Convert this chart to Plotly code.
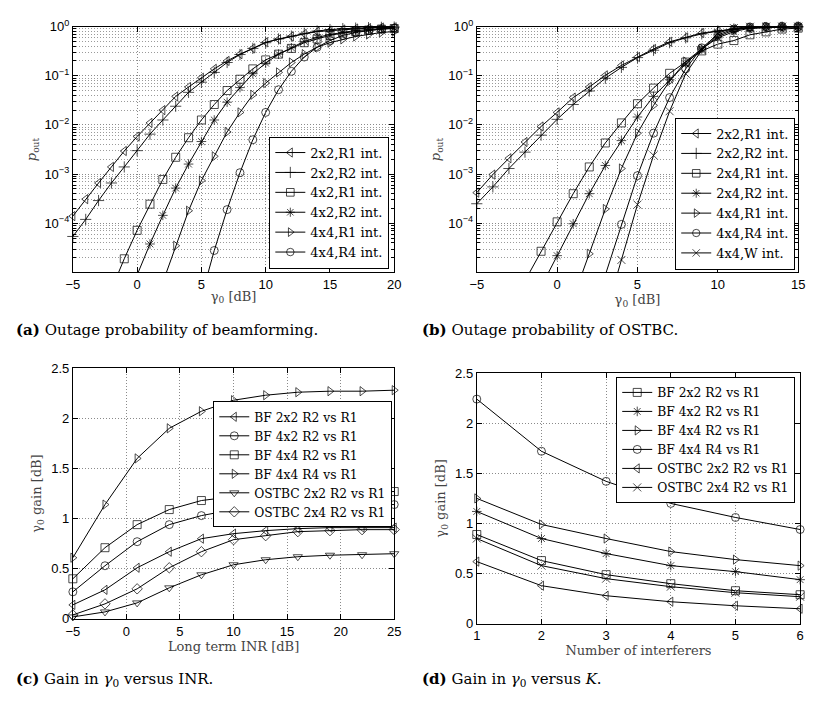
import plotly.graph_objects as go

# ---------------- data ----------------
# (a) Outage probability of beamforming
a_x_2x2_R1 = list(range(-5, 21))
a_2x2_R1 = [1.4e-4, 3.1e-4, 6.6e-4, 1.4e-3, 2.95e-3, 5.8e-3, 1.1e-2, 2.0e-2, 3.8e-2, 5.9e-2,
            9.1e-2, 0.138, 0.20, 0.275, 0.36, 0.48, 0.55, 0.63, 0.71, 0.79, 0.83, 0.87, 0.91,
            0.93, 0.955, 0.966]
a_x_2x2_R2 = list(range(-5, 21))
a_2x2_R2 = [5.4e-5, 1.2e-4, 2.9e-4, 6.6e-4, 1.4e-3, 3.0e-3, 6.5e-3, 1.26e-2, 2.4e-2, 4.6e-2,
            7.4e-2, 0.117, 0.186, 0.27, 0.36, 0.47, 0.56, 0.64, 0.73, 0.81, 0.87, 0.91, 0.93,
            0.95, 0.965, 0.975]
a_x_4x2_R1 = list(range(-2, 21))
a_4x2_R1 = [4.5e-6, 1.9e-5, 7.2e-5, 2.45e-4, 7.8e-4, 2.2e-3, 5.5e-3, 1.26e-2, 2.6e-2, 5.0e-2,
            8.5e-2, 0.138, 0.21, 0.275, 0.36, 0.47, 0.56, 0.66, 0.74, 0.79, 0.85, 0.89, 0.91]
a_x_4x2_R2 = list(range(0, 21))
a_4x2_R2 = [8.9e-6, 3.8e-5, 1.45e-4, 5.2e-4, 1.6e-3, 4.6e-3, 1.26e-2, 2.9e-2, 5.75e-2, 0.11,
            0.18, 0.275, 0.37, 0.50, 0.60, 0.69, 0.76, 0.83, 0.87, 0.91, 0.93]
a_x_4x4_R1 = list(range(2, 21))
a_4x4_R1 = [6.3e-6, 3.5e-5, 1.8e-4, 7.4e-4, 2.3e-3, 7.2e-3, 1.8e-2, 4.1e-2, 7.1e-2, 0.117,
            0.186, 0.275, 0.38, 0.47, 0.55, 0.63, 0.69, 0.76, 0.79]
a_x_4x4_R4 = list(range(5, 21))
a_4x4_R4 = [3.2e-6, 2.8e-5, 1.9e-4, 1.07e-3, 5.0e-3, 1.8e-2, 5.2e-2, 0.123, 0.24, 0.38, 0.52,
            0.66, 0.76, 0.83, 0.89, 0.93]

# (b) Outage probability of OSTBC
b_x_2x2_R1 = list(range(-5, 16))
b_2x2_R1 = [4.2e-4, 9.8e-4, 2.1e-3, 4.5e-3, 9.3e-3, 1.8e-2, 3.6e-2, 5.9e-2, 0.102, 0.162,
            0.24, 0.35, 0.49, 0.60, 0.74, 0.81, 0.89, 0.93, 0.955, 0.977, 0.989]
b_x_2x2_R2 = list(range(-5, 16))
b_2x2_R2 = [2.5e-4, 5.5e-4, 1.3e-3, 2.8e-3, 6.2e-3, 1.3e-2, 2.6e-2, 4.9e-2, 8.9e-2, 0.148,
            0.234, 0.33, 0.47, 0.59, 0.71, 0.81, 0.89, 0.93, 0.955, 0.977, 0.989]
b_x_2x4_R1 = list(range(-2, 16))
b_2x4_R1 = [6.8e-6, 2.7e-5, 1.07e-4, 4.0e-4, 1.4e-3, 4.3e-3, 1.1e-2, 2.7e-2, 5.6e-2, 0.112,
            0.19, 0.32, 0.44, 0.52, 0.68, 0.78, 0.89, 0.93]
b_x_2x4_R2 = list(range(-1, 16))
b_2x4_R2 = [5.1e-6, 2.2e-5, 9.8e-5, 4.0e-4, 1.5e-3, 4.8e-3, 1.45e-2, 3.8e-2, 8.3e-2, 0.174,
            0.35, 0.59, 0.79, 0.93, 0.977, 0.989, 0.993]
b_x_4x4_R1 = list(range(1, 16))
b_4x4_R1 = [3.0e-6, 2.4e-5, 1.95e-4, 1.3e-3, 6.8e-3, 2.5e-2, 7.8e-2, 0.195, 0.355, 0.63,
            0.85, 0.955, 0.989, 0.995, 0.998]
b_x_4x4_R4 = list(range(3, 16))
b_4x4_R4 = [8.9e-6, 9.5e-5, 9.3e-4, 6.8e-3, 3.6e-2, 0.138, 0.37, 0.68, 0.89, 0.977, 0.993,
            0.998, 1.0]
b_x_4x4_W = list(range(3, 16))
b_4x4_W = [1.35e-6, 1.8e-5, 2.4e-4, 2.4e-3, 1.9e-2, 0.11, 0.33, 0.74, 0.93, 0.989, 0.998,
           1.0, 1.0]

# (c) Gain in gamma0 versus INR
c_inr = [-5, -2, 1, 4, 7, 10, 13, 16, 19, 22, 25]
c_bf_2x2 = [0.14, 0.29, 0.51, 0.67, 0.80, 0.85, 0.88, 0.90, 0.91, 0.91, 0.91]
c_bf_4x2 = [0.27, 0.53, 0.77, 0.94, 1.03, 1.09, 1.11, 1.13, 1.13, 1.14, 1.14]
c_bf_4x4_R2 = [0.40, 0.71, 0.94, 1.09, 1.18, 1.22, 1.24, 1.25, 1.26, 1.26, 1.27]
c_bf_4x4_R4 = [0.61, 1.14, 1.60, 1.90, 2.07, 2.18, 2.23, 2.26, 2.27, 2.27, 2.28]
c_ostbc_2x2 = [0.02, 0.07, 0.16, 0.31, 0.44, 0.54, 0.59, 0.62, 0.635, 0.64, 0.65]
c_ostbc_2x4 = [0.04, 0.15, 0.30, 0.51, 0.67, 0.79, 0.83, 0.87, 0.88, 0.89, 0.89]

# (d) Gain in gamma0 versus K
d_k = [1, 2, 3, 4, 5, 6]
d_bf_2x2 = [0.89, 0.63, 0.49, 0.40, 0.33, 0.29]
d_bf_4x2 = [1.12, 0.85, 0.70, 0.58, 0.52, 0.44]
d_bf_4x4_R2 = [1.25, 0.99, 0.85, 0.72, 0.64, 0.58]
d_bf_4x4_R4 = [2.24, 1.72, 1.42, 1.20, 1.06, 0.94]
d_ostbc_2x2 = [0.62, 0.38, 0.28, 0.22, 0.18, 0.15]
d_ostbc_2x4 = [0.85, 0.58, 0.45, 0.37, 0.31, 0.27]

log_ticks = [1e-4, 1e-3, 1e-2, 1e-1, 1]
log_ticktext = ["10<sup>−4</sup>", "10<sup>−3</sup>", "10<sup>−2</sup>", "10<sup>−1</sup>", "10<sup>0</sup>"]

# ---------------- figure ----------------
SERIF = "DejaVu Serif"
SANS = "Liberation Sans"
fig = go.Figure()

def add(x, y, name, symbol, xa, ya, legend, ymin=None):
    size = 8
    sizes = [0 if (ymin is not None and v < ymin) else size for v in y]
    fig.add_trace(go.Scatter(
        x=x, y=y, name=name, mode="lines+markers",
        line=dict(color="black", width=1),
        marker=dict(symbol=symbol, size=sizes, color="black", line=dict(color="black", width=1)),
        xaxis=xa, yaxis=ya, legend=legend, cliponaxis=False))

add(a_x_2x2_R1, a_2x2_R1, "2x2,R1 int.", "triangle-left-open", "x", "y", "legend", 1e-5)
add(a_x_2x2_R2, a_2x2_R2, "2x2,R2 int.", "cross-thin-open", "x", "y", "legend", 1e-5)
add(a_x_4x2_R1, a_4x2_R1, "4x2,R1 int.", "square-open", "x", "y", "legend", 1e-5)
add(a_x_4x2_R2, a_4x2_R2, "4x2,R2 int.", "asterisk-open", "x", "y", "legend", 1e-5)
add(a_x_4x4_R1, a_4x4_R1, "4x4,R1 int.", "triangle-right-open", "x", "y", "legend", 1e-5)
add(a_x_4x4_R4, a_4x4_R4, "4x4,R4 int.", "circle-open", "x", "y", "legend", 1e-5)

add(b_x_2x2_R1, b_2x2_R1, "2x2,R1 int.", "triangle-left-open", "x2", "y2", "legend2", 1e-5)
add(b_x_2x2_R2, b_2x2_R2, "2x2,R2 int.", "cross-thin-open", "x2", "y2", "legend2", 1e-5)
add(b_x_2x4_R1, b_2x4_R1, "2x4,R1 int.", "square-open", "x2", "y2", "legend2", 1e-5)
add(b_x_2x4_R2, b_2x4_R2, "2x4,R2 int.", "asterisk-open", "x2", "y2", "legend2", 1e-5)
add(b_x_4x4_R1, b_4x4_R1, "4x4,R1 int.", "triangle-right-open", "x2", "y2", "legend2", 1e-5)
add(b_x_4x4_R4, b_4x4_R4, "4x4,R4 int.", "circle-open", "x2", "y2", "legend2", 1e-5)
add(b_x_4x4_W, b_4x4_W, "4x4,W int.", "x-thin-open", "x2", "y2", "legend2", 1e-5)

add(c_inr, c_bf_2x2, "BF 2x2 R2 vs R1", "triangle-left-open", "x3", "y3", "legend3")
add(c_inr, c_bf_4x2, "BF 4x2 R2 vs R1", "circle-open", "x3", "y3", "legend3")
add(c_inr, c_bf_4x4_R2, "BF 4x4 R2 vs R1", "square-open", "x3", "y3", "legend3")
add(c_inr, c_bf_4x4_R4, "BF 4x4 R4 vs R1", "triangle-right-open", "x3", "y3", "legend3")
add(c_inr, c_ostbc_2x2, "OSTBC 2x2 R2 vs R1", "triangle-down-open", "x3", "y3", "legend3")
add(c_inr, c_ostbc_2x4, "OSTBC 2x4 R2 vs R1", "diamond-open", "x3", "y3", "legend3")

add(d_k, d_bf_2x2, "BF 2x2 R2 vs R1", "square-open", "x4", "y4", "legend4")
add(d_k, d_bf_4x2, "BF 4x2 R2 vs R1", "asterisk-open", "x4", "y4", "legend4")
add(d_k, d_bf_4x4_R2, "BF 4x4 R2 vs R1", "triangle-right-open", "x4", "y4", "legend4")
add(d_k, d_bf_4x4_R4, "BF 4x4 R4 vs R1", "circle-open", "x4", "y4", "legend4")
add(d_k, d_ostbc_2x2, "OSTBC 2x2 R2 vs R1", "triangle-left-open", "x4", "y4", "legend4")
add(d_k, d_ostbc_2x4, "OSTBC 2x4 R2 vs R1", "x-thin-open", "x4", "y4", "legend4")

W, H = 815, 705
def dx(p0, p1):
    return [p0 / W, p1 / W]
def dy(top, bottom):
    return [1 - bottom / H, 1 - top / H]

GRID = dict(showgrid=True, gridcolor="#8a8a8a", griddash="1px,2px", gridwidth=1)
def axis_common():
    return dict(showline=True, linecolor="black", linewidth=1, mirror="ticks",
                ticks="inside", ticklen=5, tickcolor="black", zeroline=False,
                tickfont=dict(family=SANS, size=13, color="black"), **GRID)

minor_log = dict(tickmode="array",
                 tickvals=[m * 10.0 ** k for k in range(-5, 0) for m in range(2, 10)],
                 ticks="inside", ticklen=3, tickcolor="black",
                 showgrid=True, gridcolor="#9a9a9a", griddash="1px,2px", gridwidth=1)

title_font = dict(family=SERIF, size=13, color="#444")

layout = dict(
    width=W, height=H, margin=dict(l=0, r=0, t=0, b=0),
    paper_bgcolor="white", plot_bgcolor="white", showlegend=True,
    xaxis=dict(domain=dx(67, 394), anchor="y", range=[-5, 20], dtick=5, tick0=0,
               title=dict(text="γ<sub>0</sub> [dB]", font=title_font, standoff=0), **axis_common()),
    yaxis=dict(domain=dy(18, 270), anchor="x", type="log", range=[-5, 0],
               tickmode="array", tickvals=log_ticks, ticktext=log_ticktext, minor=minor_log,
               title=dict(text="<i>p</i><sub>out</sub>", font=title_font, standoff=4), **axis_common()),
    xaxis2=dict(domain=dx(478, 805), anchor="y2", range=[-5, 15], dtick=5, tick0=0,
                title=dict(text="γ<sub>0</sub> [dB]", font=title_font, standoff=0), **axis_common()),
    yaxis2=dict(domain=dy(18, 270), anchor="x2", type="log", range=[-5, 0],
                tickmode="array", tickvals=log_ticks, ticktext=log_ticktext, minor=minor_log,
                title=dict(text="<i>p</i><sub>out</sub>", font=title_font, standoff=4), **axis_common()),
    xaxis3=dict(domain=dx(67, 394), anchor="y3", range=[-5, 25], dtick=5, tick0=0,
                title=dict(text="Long term INR [dB]", font=title_font, standoff=2), **axis_common()),
    yaxis3=dict(domain=dy(368, 625), anchor="x3", range=[0, 2.5], dtick=0.5,
                title=dict(text="γ<sub>0</sub> gain [dB]", font=title_font, standoff=6), **axis_common()),
    xaxis4=dict(domain=dx(478, 807), anchor="y4", range=[1, 6], dtick=1,
                title=dict(text="Number of interferers", font=title_font, standoff=2), **axis_common()),
    yaxis4=dict(domain=dy(373, 630), anchor="x4", range=[0, 2.5], dtick=0.5,
                title=dict(text="γ<sub>0</sub> gain [dB]", font=title_font, standoff=6), **axis_common()),
)

def leg(x, y, size, yanchor):
    return dict(x=x / W, y=1 - y / H, xanchor="right", yanchor=yanchor, xref="paper", yref="paper",
                bgcolor="white", bordercolor="black", borderwidth=1,
                font=dict(family=SERIF, size=size, color="black"),
                tracegroupgap=0, itemwidth=30)

layout["legend"] = leg(389, 266, 13, "bottom")
layout["legend2"] = leg(802, 267, 13, "bottom")
layout["legend3"] = leg(392, 402, 12.3, "top")
layout["legend4"] = leg(802, 377, 12.3, "top")

cap_font = dict(family=SERIF, size=15, color="black")
layout["annotations"] = [
    dict(text="<b>(a)</b> Outage probability of beamforming.", x=7 / W, y=1 - 329 / H,
         xref="paper", yref="paper", xanchor="left", yanchor="middle", showarrow=False, font=cap_font),
    dict(text="<b>(b)</b> Outage probability of OSTBC.", x=420 / W, y=1 - 329 / H,
         xref="paper", yref="paper", xanchor="left", yanchor="middle", showarrow=False, font=cap_font),
    dict(text="<b>(c)</b> Gain in <i>γ</i><sub>0</sub> versus INR.", x=7 / W, y=1 - 687 / H,
         xref="paper", yref="paper", xanchor="left", yanchor="middle", showarrow=False, font=cap_font),
    dict(text="<b>(d)</b> Gain in <i>γ</i><sub>0</sub> versus <i>K</i>.", x=420 / W, y=1 - 687 / H,
         xref="paper", yref="paper", xanchor="left", yanchor="middle", showarrow=False, font=cap_font),
]

fig.update_layout(**layout)
fig.write_html("out.html")
